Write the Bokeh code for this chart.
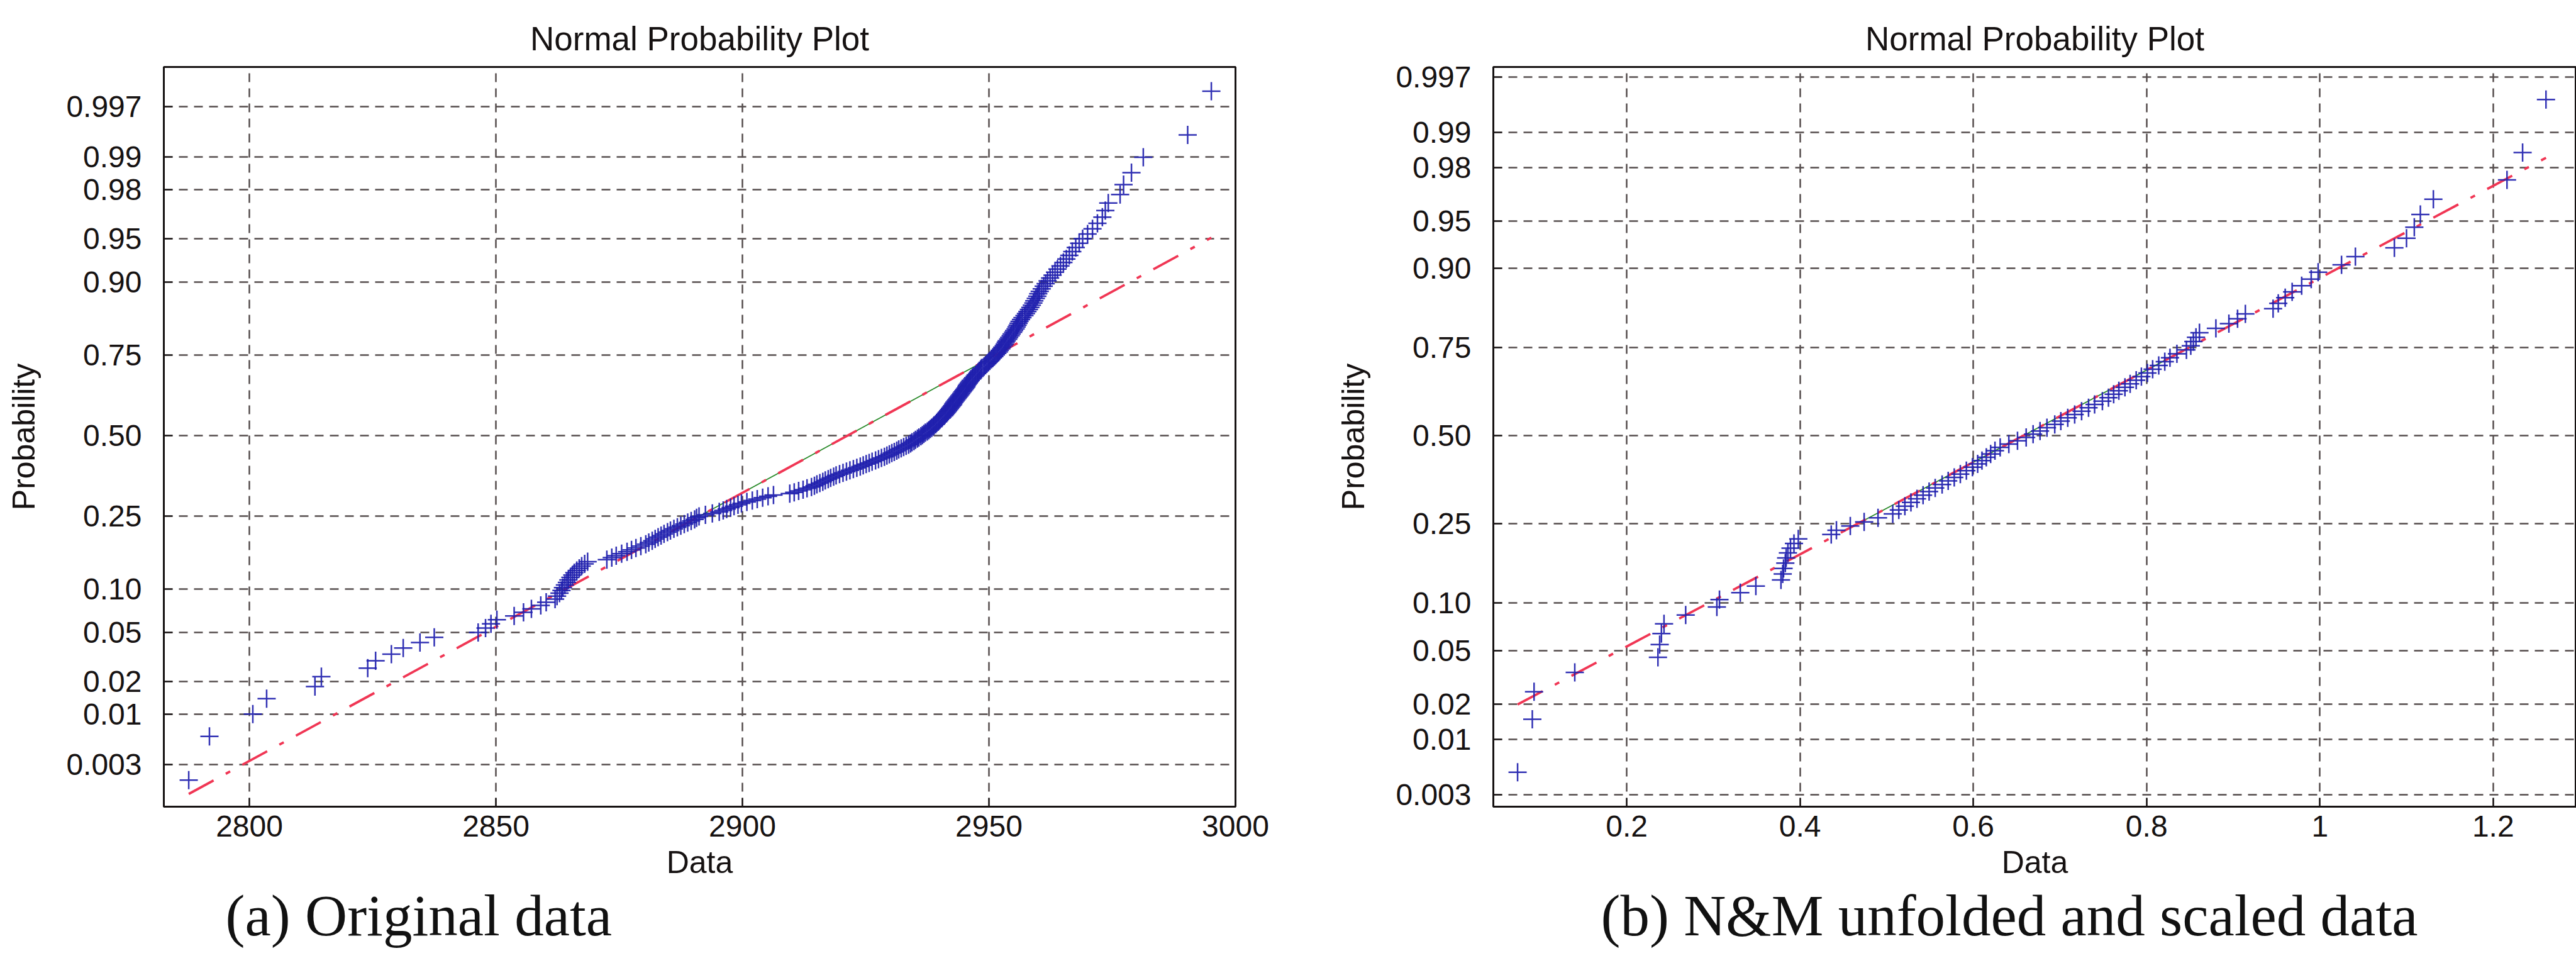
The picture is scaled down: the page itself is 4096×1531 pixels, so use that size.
from math import floor
from statistics import NormalDist

from bokeh.plotting import figure
from bokeh.models import Range1d, FixedTicker, Title
from bokeh.layouts import row
from bokeh.embed import file_html
from bokeh.resources import INLINE

# ---------------- data ----------------
prob_ticks = [0.003, 0.01, 0.02, 0.05, 0.10, 0.25, 0.50, 0.75, 0.90, 0.95, 0.98, 0.99, 0.997]
prob_labels = ["0.003", "0.01", "0.02", "0.05", "0.10", "0.25", "0.50",
               "0.75", "0.90", "0.95", "0.98", "0.99", "0.997"]

orig_xticks = [2800, 2850, 2900, 2950, 3000]
orig_xlabels = ["2800", "2850", "2900", "2950", "3000"]
nm_xticks = [0.2, 0.4, 0.6, 0.8, 1.0, 1.2]
nm_xlabels = ["0.2", "0.4", "0.6", "0.8", "1", "1.2"]

# (a) original data, sorted sample values
orig_data = [
    2787.7, 2791.9, 2800.7, 2803.5, 2813.3, 2814.6, 2824.0, 2825.6, 2828.8, 2831.2,
    2834.6, 2837.5, 2846.4, 2847.9, 2849.0, 2850.2, 2853.7, 2855.6, 2857.2, 2859.1,
    2860.2,
    2862.0, 2862.4, 2862.9, 2863.3, 2863.6, 2864.0, 2864.4, 2864.7, 2865.1, 2865.5,
    2865.9, 2866.4, 2866.9, 2867.4, 2868.0, 2868.6,
    2872.5, 2873.5, 2874.4, 2875.5,
    2876.6, 2877.5, 2878.4, 2879.4, 2880.4,
    2881.0, 2881.7, 2882.3, 2882.9, 2883.5, 2884.1, 2884.8, 2885.4,
    2886.1, 2886.8, 2887.5, 2888.2, 2888.9, 2889.6, 2890.3,
    2890.7, 2891.2, 2892.5, 2893.9, 2895.3,
    2896.1, 2896.8, 2897.6, 2898.3, 2899.1, 2899.8,
    2900.9, 2902.0, 2903.0, 2904.1, 2905.2, 2906.3,
    2909.6,
    2910.5, 2911.4, 2912.3, 2913.1, 2914.0,
    2914.6, 2915.1, 2915.7, 2916.3, 2916.8, 2917.4, 2917.9, 2918.5, 2919.0,
    2919.7, 2920.4, 2921.1, 2921.8, 2922.5, 2923.2, 2923.9,
    2924.5, 2925.1, 2925.7, 2926.3, 2927.0, 2927.6, 2928.2, 2928.8,
    2929.3, 2929.8, 2930.3, 2930.8, 2931.3, 2931.7, 2932.2, 2932.7, 2933.2, 2933.7,
    2934.1, 2934.4, 2934.8, 2935.1, 2935.5, 2935.8, 2936.2,
    2936.5, 2936.8, 2937.1, 2937.5, 2937.8, 2938.1, 2938.4, 2938.7,
    2938.9, 2939.2, 2939.4, 2939.7, 2939.9, 2940.1, 2940.4, 2940.6, 2940.9, 2941.1,
    2941.3, 2941.5, 2941.7, 2941.9, 2942.1, 2942.3, 2942.5, 2942.7, 2942.8, 2943.0,
    2943.2, 2943.4, 2943.6,
    2943.8, 2944.0, 2944.2, 2944.4, 2944.6, 2944.8, 2945.0, 2945.2, 2945.4, 2945.5,
    2945.7, 2945.9, 2946.1,
    2946.3, 2946.6, 2946.8, 2947.1, 2947.3, 2947.6, 2947.8, 2948.0, 2948.3, 2948.5,
    2949.0, 2949.3, 2949.6, 2949.9, 2950.2, 2950.5, 2950.8, 2951.1, 2951.4, 2951.7,
    2952.0,
    2952.2, 2952.5, 2952.7, 2953.0, 2953.2, 2953.4, 2953.6,
    2953.9, 2954.1, 2954.4, 2954.6, 2954.9, 2955.1, 2955.4, 2955.6, 2955.8, 2956.0,
    2956.2, 2956.5, 2956.8, 2957.2, 2957.5, 2957.8, 2958.1, 2958.4,
    2958.7, 2959.0, 2959.2, 2959.5, 2959.8, 2960.0, 2960.3,
    2960.7, 2961.1, 2961.5, 2961.9, 2962.4, 2962.9, 2963.4, 2963.9, 2964.5, 2965.1,
    2965.7, 2966.3, 2966.9, 2967.6, 2968.3, 2969.0,
    2970.0, 2971.0, 2972.0,
    2973.0, 2973.6, 2974.2,
    2976.6, 2977.3,
    2978.9, 2981.3, 2990.3, 2995.1,
]

# (b) N&M unfolded and scaled data, sorted sample values
nm_data = [
    0.074, 0.091, 0.093, 0.140, 0.236, 0.238, 0.240, 0.243, 0.268, 0.304,
    0.307, 0.331, 0.349, 0.378, 0.380, 0.381, 0.383, 0.384, 0.386, 0.389,
    0.393, 0.398,
    0.436, 0.442, 0.458, 0.474, 0.490,
    0.507, 0.514, 0.521, 0.528, 0.535, 0.542, 0.549, 0.556, 0.564, 0.571,
    0.578, 0.585, 0.592,
    0.599, 0.605, 0.610, 0.615, 0.620, 0.625, 0.631, 0.641, 0.651, 0.661,
    0.669, 0.677, 0.685, 0.694, 0.701, 0.709, 0.717, 0.725, 0.733, 0.740,
    0.749, 0.756, 0.762, 0.768, 0.775, 0.781, 0.788, 0.794, 0.801, 0.807,
    0.814, 0.821, 0.827, 0.835, 0.846, 0.851, 0.854, 0.857, 0.861, 0.880,
    0.895, 0.905, 0.914, 0.946, 0.952, 0.960, 0.968, 0.979, 0.990, 0.998,
    1.025, 1.041, 1.086, 1.100, 1.109, 1.116, 1.131, 1.216, 1.234, 1.261,
]

title_text = "Normal Probability Plot"
xlabel_text = "Data"
ylabel_text = "Probability"
caption_a = "(a) Original data"
caption_b = "(b) N&M unfolded and scaled data"

# ---------------- normal probability plot transform ----------------
ND = NormalDist()


def positions(n):
    return [ND.inv_cdf((i - 0.5) / n) for i in range(1, n + 1)]


def prctile(v, q):
    v = sorted(v)
    n = len(v)
    pos = n * q / 100.0 + 0.5
    lo = int(floor(pos))
    frac = pos - lo
    lo = min(max(lo, 1), n)
    hi = min(lo + 1, n)
    return v[lo - 1] + frac * (v[hi - 1] - v[lo - 1])


def ref_lines(x, y):
    q1x, q3x = prctile(x, 25), prctile(x, 75)
    q1y, q3y = prctile(y, 25), prctile(y, 75)
    slope = (q3y - q1y) / (q3x - q1x)
    cx, cy = (q1x + q3x) / 2, (q1y + q3y) / 2
    mnx, mxx = min(x), max(x)
    my = [cy - slope * (cx - mnx), cy + slope * (mxx - cx)]
    return [q1x, q3x], [q1y, q3y], [mnx, mxx], my


SANS = "Liberation Sans"
SERIF = "Liberation Serif"
INK = "#161212"
GRID = "#554d4d"
BLUE = "#2020ae"
RED = "#f03654"
GREEN = "#2a8a2a"


def make_panel(data, xr, yr, xticks, xlabels, width, height, mb_left, mb_right,
               mb_top, mb_bottom, title_dx, cap_text, cap_dx):
    zt = [ND.inv_cdf(p) for p in prob_ticks]
    p = figure(width=width, height=height, x_range=Range1d(*xr), y_range=Range1d(*yr),
               output_backend="svg", toolbar_location=None,
               min_border_left=mb_left, min_border_right=mb_right,
               min_border_top=mb_top, min_border_bottom=mb_bottom)
    p.background_fill_color = "white"
    p.border_fill_color = "white"
    p.outline_line_color = INK
    p.outline_line_width = 3

    # title above the frame
    p.title.text = title_text
    p.title.align = "center"
    p.title.offset = title_dx
    p.title.standoff = 31
    p.title.text_font = SANS
    p.title.text_font_size = "53px"
    p.title.text_font_style = "normal"
    p.title.text_color = INK

    p.xaxis.ticker = FixedTicker(ticks=xticks)
    p.xaxis.major_label_overrides = {t: l for t, l in zip(xticks, xlabels)}
    p.yaxis.ticker = FixedTicker(ticks=zt)
    p.yaxis.major_label_overrides = {t: l for t, l in zip(zt, prob_labels)}
    for ax in (p.xaxis[0], p.yaxis[0]):
        ax.axis_line_color = INK
        ax.axis_line_width = 3
        ax.major_tick_in = 14
        ax.major_tick_out = 0
        ax.major_tick_line_color = INK
        ax.major_tick_line_width = 2
        ax.minor_tick_line_color = None
        ax.major_label_text_font = SANS
        ax.major_label_text_font_size = "48px"
        ax.major_label_text_color = INK
        ax.axis_label_text_font = SANS
        ax.axis_label_text_font_size = "50px"
        ax.axis_label_text_font_style = "normal"
        ax.axis_label_text_color = INK
    p.yaxis.major_label_standoff = 35
    p.xaxis.major_label_standoff = 14
    p.xaxis.axis_label = xlabel_text
    p.xaxis.axis_label_standoff = 10
    p.yaxis.axis_label = ylabel_text
    p.yaxis.axis_label_standoff = 36

    for g in (p.xgrid[0], p.ygrid[0]):
        g.grid_line_color = GRID
        g.grid_line_width = 2.5
        g.grid_line_dash = "14 10"
        g.grid_line_alpha = 1.0

    y = positions(len(data))
    qx, qy, mx, my = ref_lines(data, y)
    p.line(qx, qy, line_color=GREEN, line_width=1.8)
    p.line(mx, my, line_color=RED, line_width=3.8, line_dash="45 22 8 22")
    p.scatter(data, y, marker="cross", size=29, line_color=BLUE, line_width=2.5,
              line_alpha=0.92)

    cap = Title(text=cap_text, align="left", offset=cap_dx, standoff=0,
                text_font=SERIF, text_font_size="93px", text_font_style="normal",
                text_color="#111111")
    p.add_layout(cap, "below")
    return p


p1 = make_panel(orig_data, (2782.65, 3000.0), (-3.10, 3.08), orig_xticks, orig_xlabels,
                width=2080, height=1531, mb_left=260, mb_right=116, mb_top=106,
                mb_bottom=238, title_dx=-2, cap_text=caption_a, cap_dx=98)

p2 = make_panel(nm_data, (0.046, 1.296), (-2.84, 2.825), nm_xticks, nm_xlabels,
                width=2016, height=1531, mb_left=294, mb_right=0, mb_top=102,
                mb_bottom=249, title_dx=-5, cap_text=caption_b, cap_dx=171)

layout = row(p1, p2, spacing=0)
open("out.html", "w").write(file_html(layout, INLINE))
